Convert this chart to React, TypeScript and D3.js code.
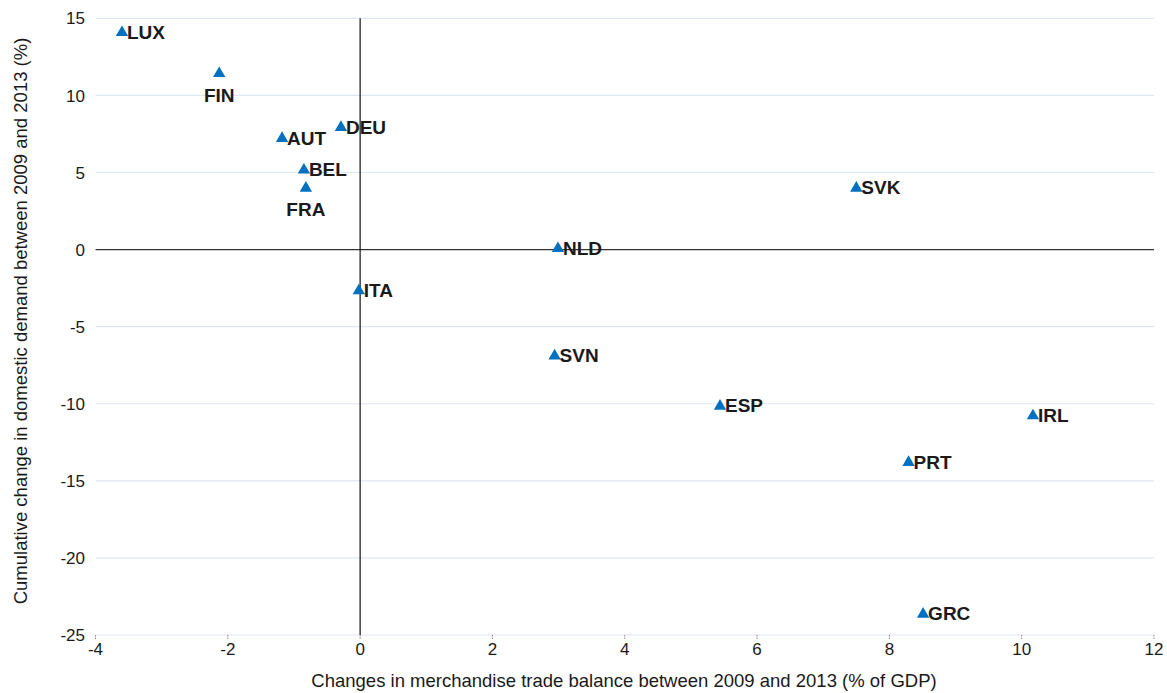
import React from "react";
import * as d3 from "d3";

const countries = ["LUX", "FIN", "AUT", "DEU", "BEL", "FRA", "ITA", "NLD", "SVN", "ESP", "SVK", "IRL", "PRT", "GRC"];
const tradeBalance = [-3.6, -2.13, -1.18, -0.29, -0.85, -0.82, -0.02, 2.99, 2.94, 5.44, 7.5, 10.17, 8.29, 8.51];
const domesticDemand = [14.13, 11.47, 7.26, 7.97, 5.21, 4.04, -2.62, 0.12, -6.84, -10.1, 4.04, -10.73, -13.75, -23.59];
const labelBelow = ["FIN", "FRA"];
const xTicks = [-4, -2, 0, 2, 4, 6, 8, 10, 12];
const yTicks = [15, 10, 5, 0, -5, -10, -15, -20, -25];

const W = 1167;
const H = 693;
const FONT = "'Liberation Sans', Arial, Helvetica, sans-serif";

export default function App() {
  const x = d3.scaleLinear().domain([-4, 12]).range([95.5, 1154]);
  const y = d3.scaleLinear().domain([15, -25]).range([18.3, 635]);
  const tri = d3.symbol().type(d3.symbolTriangle).size(66)();
  const points = countries.map((c, i) => ({ c, x: tradeBalance[i], y: domesticDemand[i] }));

  return (
    <svg width={W} height={H} style={{ position: "absolute", left: 0, top: 0, background: "#fff" }} fontFamily={FONT}>
      {yTicks.map((t) => (
        <g key={"y" + t}>
          {t !== 0 && (
            <line x1={x(-4)} x2={x(12)} y1={y(t)} y2={y(t)} stroke="#dfe6f6" strokeWidth={1.2} />
          )}
          <text x={85} y={y(t)} dy="0.36em" textAnchor="end" fontSize={17} fill="#1a1a1a">
            {t}
          </text>
        </g>
      ))}
      {xTicks.map((t) => (
        <g key={"x" + t}>
          <line x1={x(t)} x2={x(t)} y1={y(-25)} y2={y(-25) + 4} stroke="#888" strokeWidth={1} strokeDasharray="1.5,1" />
          <text x={x(t)} y={655} textAnchor="middle" fontSize={17} fill="#1a1a1a">
            {t}
          </text>
        </g>
      ))}
      <line x1={x(-4)} x2={x(12)} y1={y(0)} y2={y(0)} stroke="#333" strokeWidth={1.2} />
      <line x1={x(0)} x2={x(0)} y1={y(15)} y2={y(-25)} stroke="#111" strokeWidth={1.2} />
      {points.map((p) => {
        const px = x(p.x);
        const py = y(p.y);
        const below = labelBelow.includes(p.c);
        return (
          <g key={p.c}>
            <path d={tri as string} transform={`translate(${px},${py + 0.8})`} fill="#0070c0" />
            {below ? (
              <text x={px} y={py + 29} textAnchor="middle" fontSize={19} fontWeight="bold" fill="#1a1a1a">
                {p.c}
              </text>
            ) : (
              <text x={px + 5} y={py + 7} textAnchor="start" fontSize={19} fontWeight="bold" fill="#1a1a1a">
                {p.c}
              </text>
            )}
          </g>
        );
      })}
      <text x={624} y={687} textAnchor="middle" fontSize={18.5} fill="#1a1a1a">
        Changes in merchandise trade balance between 2009 and 2013 (% of GDP)
      </text>
      <text transform={`translate(27,321) rotate(-90)`} textAnchor="middle" fontSize={18.5} fill="#1a1a1a">
        Cumulative change in domestic demand between 2009 and 2013 (%)
      </text>
    </svg>
  );
}
